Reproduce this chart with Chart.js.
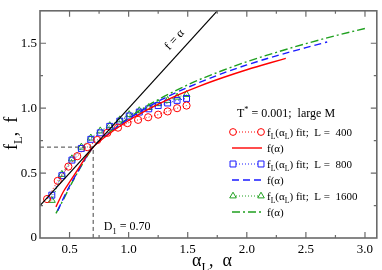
<!DOCTYPE html>
<html><head><meta charset="utf-8">
<script src="https://cdn.jsdelivr.net/npm/chart.js@4"></script>
<style>html,body{margin:0;padding:0;background:#fff;}#wrap{width:382px;height:270px;}</style>
</head><body><div id="wrap"><canvas id="c" width="382" height="270"></canvas></div>
<script>
// ---- data ----
const alphaL400 = [0.31,0.40,0.49,0.565,0.65,0.735,0.82,0.91,0.99,1.08,1.165,1.25,1.33,1.41,1.49];
const fL400     = [0.30,0.44,0.55,0.63,0.70,0.755,0.81,0.85,0.885,0.91,0.93,0.95,0.975,1.00,1.02];
const alphaL800 = [0.35,0.435,0.52,0.60,0.68,0.76,0.84,0.925,1.005,1.09,1.17,1.25,1.33,1.41,1.49];
const fL800     = [0.33,0.48,0.60,0.69,0.76,0.81,0.86,0.90,0.94,0.97,0.995,1.02,1.04,1.06,1.075];
const alphaL1600= [0.35,0.435,0.52,0.60,0.68,0.76,0.84,0.925,1.005,1.09,1.17,1.25,1.33,1.41,1.49];
const fL1600    = [0.29,0.49,0.61,0.70,0.77,0.825,0.865,0.91,0.95,0.98,1.005,1.035,1.06,1.085,1.105];

const alphaC400 = [0.385,0.45,0.50,0.55,0.60,0.65,0.70,0.80,0.90,1.00,1.10,1.20,1.30,1.42,1.60,1.80,2.00,2.20,2.33];
const fC400     = [0.24,0.36,0.43,0.50,0.57,0.64,0.70,0.778,0.845,0.905,0.958,1.008,1.053,1.103,1.17,1.236,1.296,1.35,1.383];
const alphaC800 = [0.40,0.45,0.50,0.55,0.60,0.65,0.70,0.80,0.90,1.00,1.10,1.20,1.30,1.42,1.60,1.80,2.00,2.25,2.50,2.68];
const fC800     = [0.21,0.31,0.40,0.48,0.56,0.635,0.70,0.782,0.855,0.918,0.975,1.028,1.076,1.128,1.198,1.27,1.333,1.403,1.466,1.51];
const alphaC1600= [0.385,0.45,0.50,0.55,0.60,0.65,0.70,0.80,0.90,1.00,1.10,1.20,1.30,1.42,1.60,1.80,2.00,2.25,2.50,2.75,3.00];
const fC1600    = [0.19,0.30,0.39,0.475,0.555,0.63,0.70,0.785,0.86,0.925,0.985,1.04,1.09,1.145,1.22,1.292,1.358,1.43,1.497,1.558,1.614];

const identityX = [0.25,1.75];
const D1 = 0.70;
const xTickVals = [0.5,1.0,1.5,2.0,2.5,3.0];
const xTickLabels = ['0.5','1.0','1.5','2.0','2.5','3.0'];
const yTickVals = [0,0.5,1.0,1.5];
const yTickLabels = ['0','0.5','1.0','1.5'];
const xMin = 0.25, xMax = 3.1, yMin = 0, yMax = 1.75;

const RED='#ff0000', BLUE='#1a1aff', GREEN='#1fa01f';
const zip=(a,b)=>a.map((v,i)=>({x:v,y:b[i]}));
const SERIF = '"Liberation Serif","DejaVu Serif",serif';

const datasets = [
  {data: identityX.map(v=>({x:v,y:v})), showLine:true, borderColor:'#000', borderWidth:1.2, pointRadius:0},
  {data:[{x:xMin,y:D1},{x:D1,y:D1},{x:D1,y:yMin}], showLine:true, borderColor:'#444', borderWidth:1, borderDash:[4,3], pointRadius:0},
  {data: zip(alphaC400,fC400), showLine:true, borderColor:RED, borderWidth:1.4, pointRadius:0, cubicInterpolationMode:'monotone'},
  {data: zip(alphaC800,fC800), showLine:true, borderColor:BLUE, borderWidth:1.4, borderDash:[7,4], pointRadius:0, cubicInterpolationMode:'monotone'},
  {data: zip(alphaC1600,fC1600), showLine:true, borderColor:GREEN, borderWidth:1.4, borderDash:[8,3,2,3], pointRadius:0, cubicInterpolationMode:'monotone'},
  {data: zip(alphaL400,fL400), showLine:true, borderColor:RED, borderWidth:1, borderDash:[1,2], pointStyle:'circle', pointRadius:3.6, pointBorderColor:RED, pointBackgroundColor:'rgba(0,0,0,0)', pointBorderWidth:1},
  {data: zip(alphaL800,fL800), showLine:true, borderColor:BLUE, borderWidth:1, borderDash:[1,2], pointStyle:'rect', pointRadius:4.2, pointBorderColor:BLUE, pointBackgroundColor:'rgba(0,0,0,0)', pointBorderWidth:1},
  {data: zip(alphaL1600,fL1600), showLine:true, borderColor:GREEN, borderWidth:1, borderDash:[1,2], pointStyle:'triangle', pointRadius:4, pointBorderColor:GREEN, pointBackgroundColor:'rgba(0,0,0,0)', pointBorderWidth:1}
];

function richText(ctx, x, y, parts, size){
  let cx = x;
  for (const p of parts){
    const s = p.sub||p.sup ? size*0.7 : size;
    ctx.font = s+'px '+SERIF;
    const dy = p.sub ? size*0.3 : (p.sup ? -size*0.45 : 0);
    ctx.fillText(p.t, cx, y+dy);
    cx += ctx.measureText(p.t).width;
  }
  return cx;
}

const decor = {
  id:'decor',
  afterDatasetsDraw(chart){
    const ctx = chart.ctx, a = chart.chartArea, xs = chart.scales.x, ys = chart.scales.y;
    ctx.save();
    ctx.strokeStyle = '#6a6a6a'; ctx.lineWidth = 1.6;
    ctx.strokeRect(a.left, a.top, a.right-a.left, a.bottom-a.top);
    ctx.lineWidth = 1.2;
    ctx.beginPath();
    for (let v=0.25; v<=xMax+1e-9; v+=0.25){
      if (v<=xMin+1e-9) continue;
      const px = xs.getPixelForValue(v);
      const L = Math.abs(v*2-Math.round(v*2))<1e-6 ? 6 : 3;
      ctx.moveTo(px,a.bottom); ctx.lineTo(px,a.bottom-L);
      ctx.moveTo(px,a.top); ctx.lineTo(px,a.top+L);
    }
    for (let v=0.25; v<yMax-1e-9; v+=0.25){
      const py = ys.getPixelForValue(v);
      const L = Math.abs(v*2-Math.round(v*2))<1e-6 ? 6 : 3;
      ctx.moveTo(a.left,py); ctx.lineTo(a.left+L,py);
      ctx.moveTo(a.right,py); ctx.lineTo(a.right-L,py);
    }
    ctx.stroke();

    ctx.fillStyle = '#000';
    ctx.textBaseline = 'alphabetic';
    // D1 label
    richText(ctx, xs.getPixelForValue(0.79), ys.getPixelForValue(0.06), [{t:'D'},{t:'1',sub:true},{t:' = 0.70'}], 12);
    // f = alpha label
    ctx.save();
    ctx.translate(xs.getPixelForValue(1.41), ys.getPixelForValue(1.51));
    ctx.rotate(-Math.atan2(ys.getPixelForValue(0)-ys.getPixelForValue(1), xs.getPixelForValue(1)-xs.getPixelForValue(0)));
    ctx.font = '12px '+SERIF; ctx.textAlign='center';
    ctx.fillText('f = α', 0, 0);
    ctx.restore();

    // axis titles
    ctx.textAlign='left';
    richText(ctx, 192, 266, [{t:'α'},{t:'L',sub:true},{t:',  α'}], 18);
    ctx.save();
    ctx.translate(17, 150); ctx.rotate(-Math.PI/2);
    richText(ctx, 0, 0, [{t:'f'},{t:'L',sub:true},{t:',  f'}], 18);
    ctx.restore();

    // legend
    richText(ctx, 237, 117, [{t:'T'},{t:'*',sup:true},{t:' = 0.001;  large M'}], 12);
    const rows = [
      {y:132, color:RED, kind:'pts', style:'circle', label:'400'},
      {y:148, color:RED, kind:'line', dash:[]},
      {y:164, color:BLUE, kind:'pts', style:'rect', label:'800'},
      {y:180, color:BLUE, kind:'line', dash:[7,4]},
      {y:196, color:GREEN, kind:'pts', style:'triangle', label:'1600'},
      {y:212, color:GREEN, kind:'line', dash:[8,3,2,3]}
    ];
    for (const r of rows){
      ctx.strokeStyle = r.color; ctx.fillStyle='#000';
      if (r.kind==='pts'){
        ctx.lineWidth=1; ctx.setLineDash([1,2]);
        ctx.beginPath(); ctx.moveTo(236,r.y); ctx.lineTo(258,r.y); ctx.stroke();
        ctx.setLineDash([]);
        const rad = r.style==='rect'?4.2:(r.style==='circle'?3.4:3.8);
        ctx.fillStyle='rgba(0,0,0,0)';
        Chart.helpers.drawPoint(ctx,{pointStyle:r.style, borderWidth:1, rotation:0, radius:rad}, 233, r.y);
        Chart.helpers.drawPoint(ctx,{pointStyle:r.style, borderWidth:1, rotation:0, radius:rad}, 261, r.y);
        ctx.fillStyle='#000';
        richText(ctx, 267, r.y+4, [{t:'f'},{t:'L',sub:true},{t:'(α'},{t:'L',sub:true},{t:') fit;  L =  '+r.label}], 11);
      } else {
        ctx.lineWidth=1.4; ctx.setLineDash(r.dash);
        ctx.beginPath(); ctx.moveTo(232,r.y); ctx.lineTo(262,r.y); ctx.stroke();
        ctx.setLineDash([]);
        richText(ctx, 267, r.y+4, [{t:'f(α)'}], 11);
      }
    }
    ctx.restore();
  }
};

new Chart(document.getElementById('c'), {
  type:'scatter',
  data:{datasets},
  options:{
    responsive:false, animation:false,
    layout:{padding:{top:1,right:2,left:0,bottom:0}},
    plugins:{legend:{display:false}, tooltip:{enabled:false}},
    scales:{
      x:{type:'linear', min:xMin, max:xMax,
        grid:{display:false, drawTicks:false}, border:{display:false},
        afterBuildTicks:s=>{s.ticks = xTickVals.map(v=>({value:v}));},
        afterFit:s=>{s.height = 32;},
        ticks:{padding:4, color:'#000', font:{family:SERIF,size:13}, maxRotation:0, autoSkip:false,
          callback:(v)=>{const i=xTickVals.indexOf(v); return i>=0?xTickLabels[i]:'';}}},
      y:{type:'linear', min:yMin, max:yMax,
        grid:{display:false, drawTicks:false}, border:{display:false},
        afterBuildTicks:s=>{s.ticks = yTickVals.map(v=>({value:v}));},
        afterFit:s=>{s.width = 40;},
        ticks:{padding:3, color:'#000', font:{family:SERIF,size:13}, autoSkip:false,
          callback:(v)=>{const i=yTickVals.indexOf(v); return i>=0?yTickLabels[i]:'';}}}
    }
  },
  plugins:[decor]
});
</script></body></html>
